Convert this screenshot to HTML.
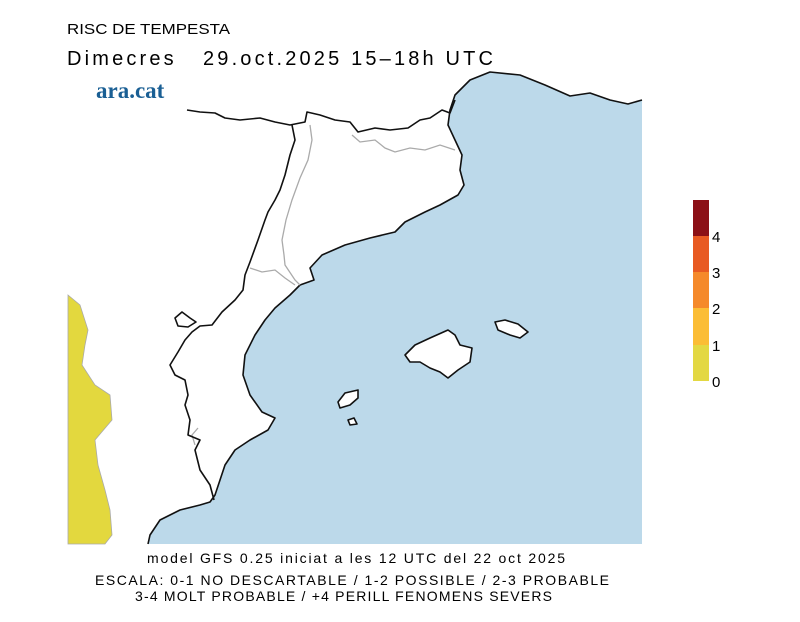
<!DOCTYPE html>
<html><head><meta charset="utf-8"><style>
body{margin:0;background:#fff;width:800px;height:617px;overflow:hidden;font-family:"Liberation Sans",sans-serif;}
</style></head><body>
<svg width="800" height="617" viewBox="0 0 800 617" xmlns="http://www.w3.org/2000/svg">
<text x="67" y="34" font-size="15" font-family="Liberation Sans" textLength="163" lengthAdjust="spacingAndGlyphs">RISC DE TEMPESTA</text>
<text x="67" y="65" font-size="20" font-family="Liberation Sans" xml:space="preserve" textLength="426" lengthAdjust="spacing">Dimecres   29.oct.2025 15–18h UTC</text>
<text x="96" y="98" font-size="23" font-weight="bold" font-family="Liberation Serif" fill="#1a5f94">ara.cat</text>
<!-- sea -->
<path d="M642,100 L628,104 L610,100 L590,93 L570,96 L545,85 L520,75 L490,72 L470,80 L455,95 L450,110 L448,125 L455,140 L462,155 L460,170 L464,185 L458,195 L440,205 L425,212 L405,222 L395,232 L370,238 L345,245 L322,255 L310,268 L314,280 L300,285 L290,295 L275,308 L265,320 L255,335 L245,355 L243,375 L250,395 L262,412 L275,418 L268,430 L250,440 L235,450 L225,465 L220,480 L215,495 L210,502 L200,505 L180,510 L160,520 L150,535 L148,544 L642,544 L642,72 Z" fill="#bcd9ea"/>
<path d="M642,72 L490,72 L470,80 L455,95 L642,95 Z" fill="#bcd9ea"/>
<path d="M642,100 L628,104 L610,100 L590,93 L570,96 L545,85 L520,75 L490,72 L642,72 Z" fill="#fff"/>
<path d="M642,100 L628,104 L610,100 L590,93 L570,96 L545,85 L520,75 L490,72 L470,80 L455,95 L450,110 L448,125 L455,140 L462,155 L460,170 L464,185 L458,195 L440,205 L425,212 L405,222 L395,232 L370,238 L345,245 L322,255 L310,268 L314,280 L300,285 L290,295 L275,308 L265,320 L255,335 L245,355 L243,375 L250,395 L262,412 L275,418 L268,430 L250,440 L235,450 L225,465 L220,480 L215,495 L210,502 L200,505 L180,510 L160,520 L150,535 L148,544" fill="none" stroke="#111" stroke-width="1.6" stroke-linejoin="round"/>
<!-- yellow -->
<path d="M68,295 L80,305 L88,330 L85,345 L82,365 L95,385 L110,395 L112,420 L95,440 L98,465 L105,490 L110,510 L112,535 L105,544 L68,544 Z" fill="#e3d83e" stroke="#aaa" stroke-width="0.8"/>
<!-- grey borders -->
<g fill="none" stroke="#aaa" stroke-width="1.3">
<path d="M352,135 L360,142 L375,140 L385,148 L395,152 L410,148 L425,150 L440,145 L455,150"/>
<path d="M310,125 L312,140 L308,160 L300,178 L292,200 L286,220 L282,240 L284,255 L285,265 L295,280 L300,285"/>
<path d="M250,268 L262,272 L275,270 L285,278 L295,285"/>
<path d="M198,428 L192,435 L195,445"/>
</g>
<!-- black borders -->
<g fill="none" stroke="#111" stroke-width="1.6" stroke-linejoin="round">
<path d="M187,110 L200,112 L215,113 L225,118 L240,120 L260,118 L275,122 L290,125 L305,122 L307,112 L320,115 L335,120 L350,122 L358,132 L375,128 L390,130 L408,128 L420,120 L430,118 L442,110 L450,113 L455,100"/>
<path d="M292,125 L295,140 L290,155 L285,175 L280,190 L275,200 L268,212 L265,220 L258,240 L250,262 L245,275 L243,290 L235,300 L222,312 L212,325 L200,326 L192,332 L185,340 L178,352 L170,365 L175,375 L185,380 L188,395 L185,405 L190,420 L188,435 L200,440 L195,450 L200,470 L210,485 L214,500"/>
<path d="M175,318 L182,312 L190,318 L196,322 L188,327 L178,326 Z"/>
<path d="M405,355 L415,345 L430,338 L448,330 L455,335 L460,345 L472,348 L470,362 L458,370 L448,378 L440,372 L430,368 L420,362 L410,362 Z" fill="#fff"/>
<path d="M495,322 L505,320 L518,324 L528,332 L520,338 L510,335 L498,330 Z" fill="#fff"/>
<path d="M338,402 L345,393 L358,390 L358,398 L350,405 L340,408 Z" fill="#fff"/>
<path d="M348,420 L354,418 L357,424 L350,425 Z" fill="#fff"/>
</g>
<!-- colorbar -->
<rect x="693" y="200" width="16" height="36" fill="#8c1016"/>
<rect x="693" y="236" width="16" height="36" fill="#e85a22"/>
<rect x="693" y="272" width="16" height="36" fill="#f5892a"/>
<rect x="693" y="308" width="16" height="37" fill="#fbbd35"/>
<rect x="693" y="345" width="16" height="36" fill="#e3d842"/>
<g font-size="15" font-family="Liberation Sans">
<text x="712" y="242">4</text><text x="712" y="278">3</text><text x="712" y="314">2</text><text x="712" y="351">1</text><text x="712" y="387">0</text>
</g>
<g font-size="14" font-family="Liberation Sans">
<text x="147" y="563" textLength="418" lengthAdjust="spacing">model GFS 0.25 iniciat a les 12 UTC del 22 oct 2025</text>
<text x="95" y="585" textLength="514" lengthAdjust="spacing">ESCALA: 0-1 NO DESCARTABLE / 1-2 POSSIBLE / 2-3 PROBABLE</text>
<text x="135" y="601" textLength="417" lengthAdjust="spacing">3-4 MOLT PROBABLE / +4 PERILL FENOMENS SEVERS</text>
</g>
</svg>
</body></html>
